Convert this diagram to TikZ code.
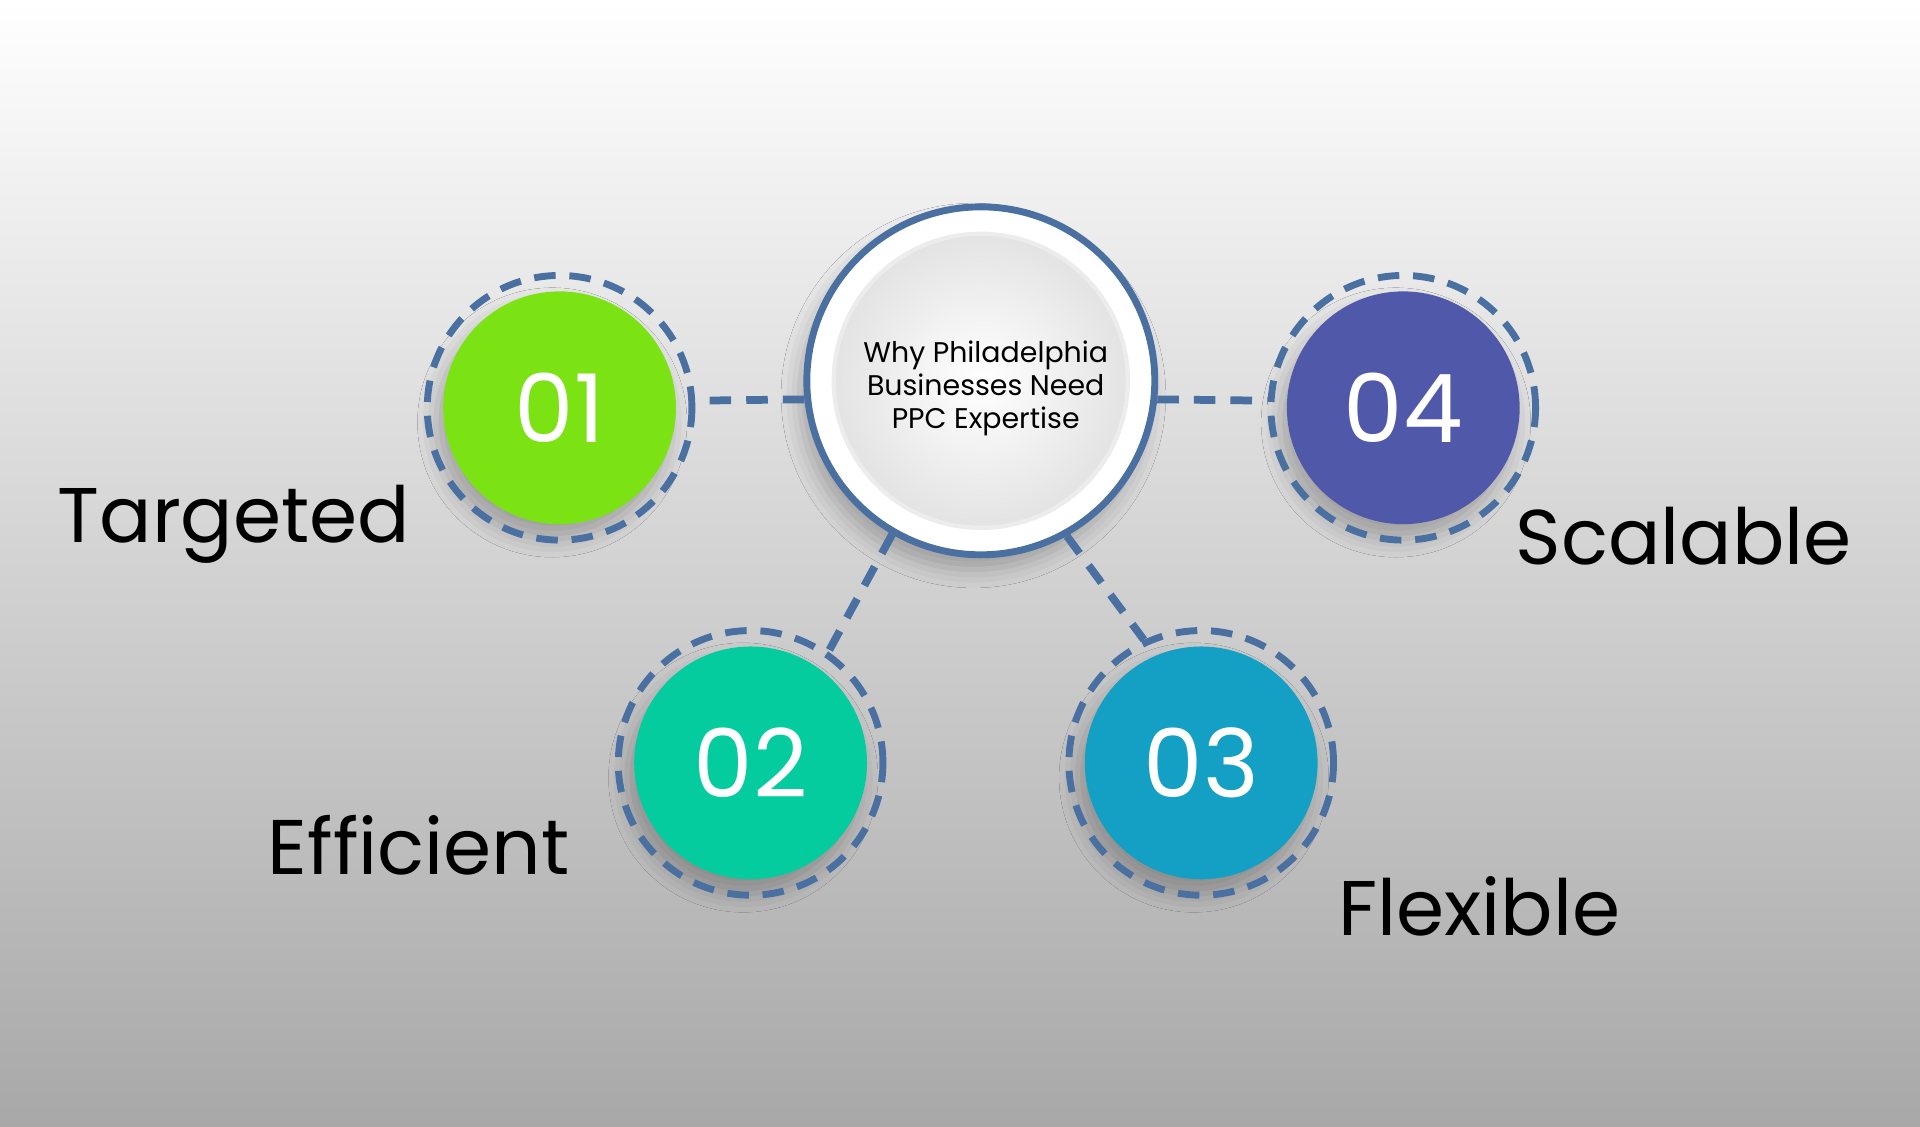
\documentclass[tikz,border=0pt]{standalone}
\usepackage{fontspec}
\setmainfont{Poppins}
\usetikzlibrary{shadows.blur}
\definecolor{ringblue}{HTML}{4A70A2}
\definecolor{cA}{HTML}{7BE314}
\definecolor{cB}{HTML}{05CC9E}
\definecolor{cC}{HTML}{13A0C4}
\definecolor{cD}{HTML}{5058AA}
\definecolor{bgtop}{HTML}{FFFFFF}
\definecolor{bgbot}{HTML}{A8A8A8}
\tikzset{
  numdisc/.style={circle,minimum size=1.9cm,inner sep=0pt,text=white,font=\fontsize{22}{22}\selectfont,blur shadow={shadow xshift=-0.06cm,shadow yshift=-0.12cm,shadow blur radius=0.15cm,shadow opacity=25}},
  dring/.style={circle,draw=ringblue,line width=1.6pt,dash pattern=on 5pt off 3.2pt,minimum size=2.16cm,inner sep=0pt},
  conn/.style={draw=ringblue,line width=1.8pt,dash pattern=on 5pt off 3.5pt},
  lbl/.style={font=\fontsize{18}{18}\selectfont,text=black}
}
\begin{document}
\begin{tikzpicture}[x=0.01cm,y=-0.01cm]
\shade[top color=bgtop,bottom color=bgbot,middle color=gray!35!white] (0,0) rectangle (1568,920);
\useasboundingbox (0,0) rectangle (1568,920);
% center
\node[circle,minimum size=2.84cm,fill=white,draw=ringblue,line width=1.6pt,inner sep=0pt,blur shadow={shadow xshift=-0.06cm,shadow yshift=-0.12cm,shadow blur radius=0.15cm,shadow opacity=25}] (c) at (801,311) {};
\node[circle,minimum size=2.4cm,inner sep=0pt,inner color=white,outer color=gray!22,draw=gray!15,line width=1pt] (ci) at (801,311) {};
\node[align=center,font=\fontsize{6.6}{7.6}\selectfont] (ct) at (805,317) {Why Philadelphia\\Businesses Need\\PPC Expertise};
% discs
\node[numdisc,fill=cA] (n1) at (457,333) {01};
\node[dring] (r1) at (457,333) {};
\node[numdisc,fill=cB] (n2) at (613,623) {02};
\node[dring] (r2) at (613,623) {};
\node[numdisc,fill=cC] (n3) at (981,623) {03};
\node[dring] (r3) at (981,623) {};
\node[numdisc,fill=cD] (n4) at (1146,333) {04};
\node[dring] (r4) at (1146,333) {};
% connectors
\draw[conn] (c.186) -- (r1.3);
\draw[conn] (c.-6) -- (r4.177);
\draw[conn] (c.-120) -- (r2.55);
\draw[conn] (c.-61) -- (r3.115);
% labels
\node[lbl] (l1) at (191,428) {Targeted};
\node[lbl] (l2) at (342,690) {Efficient};
\node[lbl] (l3) at (1208,740) {Flexible};
\node[lbl] (l4) at (1375,438) {Scalable};
\end{tikzpicture}
\end{document}
